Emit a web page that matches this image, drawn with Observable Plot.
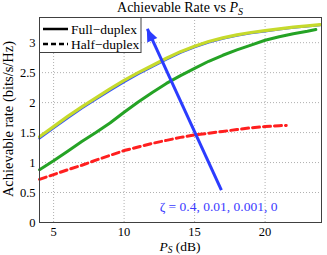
<!DOCTYPE html>
<html><head><meta charset="utf-8">
<script src="https://cdn.jsdelivr.net/npm/d3@7"></script>
<script src="https://cdn.jsdelivr.net/npm/@observablehq/plot@0.6"></script>
<style>
body{margin:0;background:#fff}
svg text{font-family:"Liberation Serif","Times New Roman",serif}
</style>
</head><body><div id="chart"></div>
<script>
// x values (P_S in dB)
const psYellow = [4,5,6,7,8,9,10,11,12,13,14,15,16,17,18,19,20,21,22,23,23.9];
const psBlue   = [4,5,6,7,8,9,10,11,12,13,14,15,16,17,18,19,20,21,22,23,23.9];
const psGreen  = [4,5,6,7,8,9,10,11,12,13,14,15,16,17,18,19,20,21,22,23,23.6];
const psHalf   = [4,5,6,7,8,9,10,11,12,13,14,15,16,17,18,19,20,21,21.5];
// achievable rates (bits/s/Hz)
const rateZeta0    = [1.43,1.60,1.77,1.93,2.08,2.23,2.37,2.50,2.62,2.74,2.85,2.94,3.02,3.08,3.13,3.17,3.20,3.23,3.26,3.28,3.30];
const rateZeta001  = [1.405,1.575,1.745,1.905,2.055,2.205,2.345,2.478,2.60,2.722,2.833,2.925,3.007,3.068,3.12,3.161,3.192,3.223,3.255,3.275,3.295];
const rateZeta04   = [0.88,1.03,1.19,1.35,1.50,1.66,1.84,2.01,2.17,2.32,2.45,2.57,2.69,2.79,2.88,2.96,3.04,3.10,3.15,3.19,3.22];
const rateHalf     = [0.72,0.80,0.88,0.955,1.04,1.12,1.20,1.26,1.32,1.37,1.42,1.46,1.49,1.52,1.55,1.58,1.60,1.615,1.62];
// ticks
const xTicks = [5,10,15,20];
const yTicks = [0,0.5,1,1.5,2,2.5,3];
// annotation
const arrowData = [{x1:16.9, y1:0.54, x2:11.65, y2:3.23}];
const zetaLabel = [{x:16.7, y:0.26, text:"ζ = 0.4, 0.01, 0.001, 0"}];
const legendLabels = ["Full\u2212duplex","Half\u2212duplex"];

const toRows = (xs, ys) => xs.map((x,i)=>({x, y:ys[i]}));

const W = 327, H = 255;
const mL = 39, mR = 6, mT = 17, mB = 33;
const serif = "Liberation Serif";
const arrowBlue = "#2b3cff";

const plot = Plot.plot({
  width: W, height: H,
  marginLeft: mL, marginRight: mR, marginTop: mT, marginBottom: mB,
  style: {fontFamily: serif, fontSize: "12.5px", background: "#fff", color: "#000"},
  x: {domain: [4, 24], label: null},
  y: {domain: [0, 3.42], label: null},
  marks: [
    Plot.gridX(xTicks, {stroke: "#b0b0b0", strokeOpacity: 1, strokeDasharray: "1,2"}),
    Plot.gridY(yTicks, {stroke: "#b0b0b0", strokeOpacity: 1, strokeDasharray: "1,2"}),
    Plot.axisX(xTicks, {tickSize: 0, tickPadding: 5, label: null, tickFormat: d => String(d)}),
    Plot.axisY(yTicks, {tickSize: 0, tickPadding: 4, label: null, tickFormat: d => String(d)}),
    Plot.line(toRows(psHalf, rateHalf), {x:"x", y:"y", stroke:"#ff1f1f", strokeWidth:3, strokeDasharray:"7,4"}),
    Plot.line(toRows(psGreen, rateZeta04), {x:"x", y:"y", stroke:"#25a325", strokeWidth:3}),
    Plot.line(toRows(psBlue, rateZeta001), {x:"x", y:"y", stroke:"#3050ff", strokeWidth:2.5}),
    Plot.line(toRows(psYellow, rateZeta0), {x:"x", y:"y", stroke:"#c6da2c", strokeWidth:3.2}),
    Plot.link(arrowData, {x1:"x1", y1:"y1", x2:"x2", y2:"y2", stroke:arrowBlue, strokeWidth:3}),
    Plot.text(zetaLabel, {x:"x", y:"y", text:"text", fill:"#3b3bff", fontSize:13.5}),
    Plot.frame({stroke:"#404040"})
  ]
});

const svg = d3.select(plot);
// filled arrow head, positioned through the plot's scales
const sx = plot.scale("x"), sy = plot.scale("y");
arrowData.forEach(a => {
  const bx = sx.apply(a.x1), by = sy.apply(a.y1), tx = sx.apply(a.x2), ty = sy.apply(a.y2);
  const len = Math.hypot(tx - bx, ty - by), ux = (tx - bx) / len, uy = (ty - by) / len;
  const hl = 13, hw = 5.5;
  const cx = tx - ux * hl, cy = ty - uy * hl;
  const pts = [[tx, ty], [cx - uy * hw, cy + ux * hw], [cx + uy * hw, cy - ux * hw]];
  svg.append("polygon").attr("points", pts.map(p => p.join(",")).join(" ")).attr("fill", arrowBlue);
});
// title
const t = svg.append("text").attr("x", 180).attr("y", 11.5).attr("text-anchor","middle")
  .attr("font-size", 14);
t.append("tspan").text("Achievable Rate vs ");
t.append("tspan").attr("font-style","italic").text("P");
t.append("tspan").attr("font-style","italic").attr("font-size", 10).attr("dy", 3).text("S");
// x label
const xl = svg.append("text").attr("x", 180).attr("y", 250.5).attr("text-anchor","middle")
  .attr("font-size", 13.5);
xl.append("tspan").attr("font-style","italic").text("P");
xl.append("tspan").attr("font-style","italic").attr("font-size", 9.5).attr("dy", 2.5).text("S");
xl.append("tspan").attr("dy", -2.5).text(" (dB)");
// y label
svg.append("text").attr("transform", "translate(13,119) rotate(-90)").attr("text-anchor","middle")
  .attr("font-size", 14.5).text("Achievable rate (bits/s/Hz)");
// legend
const lg = svg.append("g");
lg.append("rect").attr("x", 39.5).attr("y", 17.5).attr("width", 101.5).attr("height", 35)
  .attr("fill","#fff").attr("stroke","#404040");
const lgY = [29, 44];
legendLabels.forEach((lab, i) => {
  lg.append("line").attr("x1", 43).attr("x2", 68).attr("y1", lgY[i]).attr("y2", lgY[i])
    .attr("stroke","#000").attr("stroke-width", 2.5).attr("stroke-dasharray", i ? "5,3" : null);
  lg.append("text").attr("x", 71).attr("y", lgY[i] + 4.5).attr("text-anchor","start")
    .attr("font-size", 13.5).text(lab);
});

document.getElementById("chart").append(plot);
</script>
</body></html>
